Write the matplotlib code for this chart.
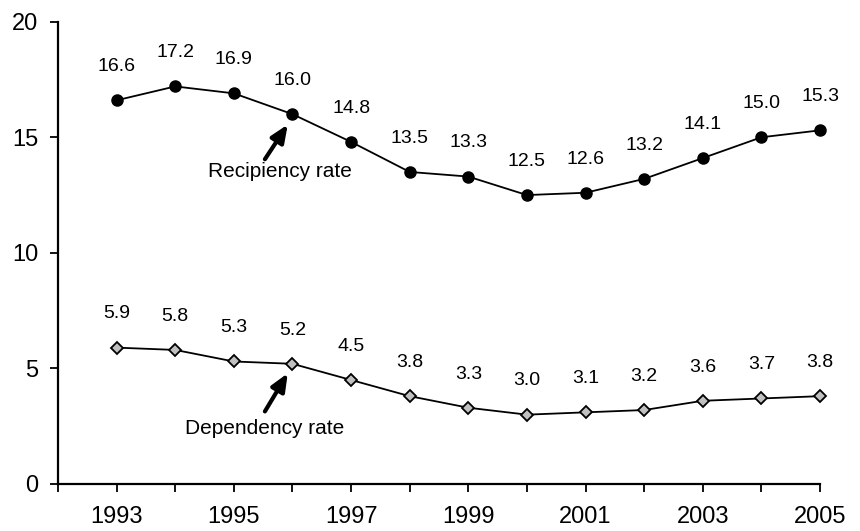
import matplotlib
matplotlib.use("Agg")
import matplotlib.pyplot as plt

years = [1993, 1994, 1995, 1996, 1997, 1998, 1999, 2000, 2001, 2002, 2003, 2004, 2005]
recipiency = [16.6, 17.2, 16.9, 16.0, 14.8, 13.5, 13.3, 12.5, 12.6, 13.2, 14.1, 15.0, 15.3]
dependency = [5.9, 5.8, 5.3, 5.2, 4.5, 3.8, 3.3, 3.0, 3.1, 3.2, 3.6, 3.7, 3.8]
x_tick_labels = ["", "1993", "", "1995", "", "1997", "", "1999", "", "2001", "", "2003", "", "2005"]
y_ticks = [0, 5, 10, 15, 20]

plt.rcParams['font.family'] = ['Liberation Sans', 'DejaVu Sans']

fig = plt.figure(figsize=(8.6, 5.31), dpi=100)
ax = fig.add_axes([58/860, (531-484)/531, (820-58)/860, (484-21.7)/531])

ax.plot(years, recipiency, color='black', lw=1.3, marker='o', markersize=8,
        markerfacecolor='black', markeredgecolor='black', clip_on=False, zorder=3)
ax.plot(years, dependency, color='black', lw=1.3, marker='D', markersize=6.5,
        markerfacecolor='#C0C0C0', markeredgecolor='black', markeredgewidth=1.3,
        clip_on=False, zorder=3)

for x, v in zip(years, recipiency):
    ax.annotate(f"{v:.1f}", (x, v), xytext=(0, 21), textcoords='offset points',
                ha='center', va='baseline', fontsize=14)
for x, v in zip(years, dependency):
    ax.annotate(f"{v:.1f}", (x, v), xytext=(0, 21), textcoords='offset points',
                ha='center', va='baseline', fontsize=14)

arrow_props = dict(arrowstyle='-|>,head_length=0.75,head_width=0.32', lw=3.0,
                   color='black', shrinkA=0, shrinkB=0, mutation_scale=14)
ax.annotate("", xy=(1995.92, 15.55), xytext=(1995.53, 14.05), arrowprops=arrow_props)
ax.text(1995.79, 13.50, "Recipiency rate", ha='center', va='center', fontsize=15)
ax.annotate("", xy=(1995.92, 4.79), xytext=(1995.53, 3.14), arrowprops=arrow_props)
ax.text(1995.53, 2.39, "Dependency rate", ha='center', va='center', fontsize=15)

ax.set_xlim(1992, 2005)
ax.set_ylim(0, 20)
ax.set_xticks(list(range(1992, 2006)))
ax.set_xticklabels(x_tick_labels)
ax.set_yticks(y_ticks)
ax.set_yticklabels([str(v) for v in y_ticks])

for s in ['top', 'right']:
    ax.spines[s].set_visible(False)
for s in ['left', 'bottom']:
    ax.spines[s].set_linewidth(1.6)
ax.tick_params(axis='both', direction='out', length=6, width=1.3, labelsize=17)
ax.tick_params(axis='x', pad=10)
ax.tick_params(axis='y', pad=8)

fig.savefig("out.png", dpi=100)
